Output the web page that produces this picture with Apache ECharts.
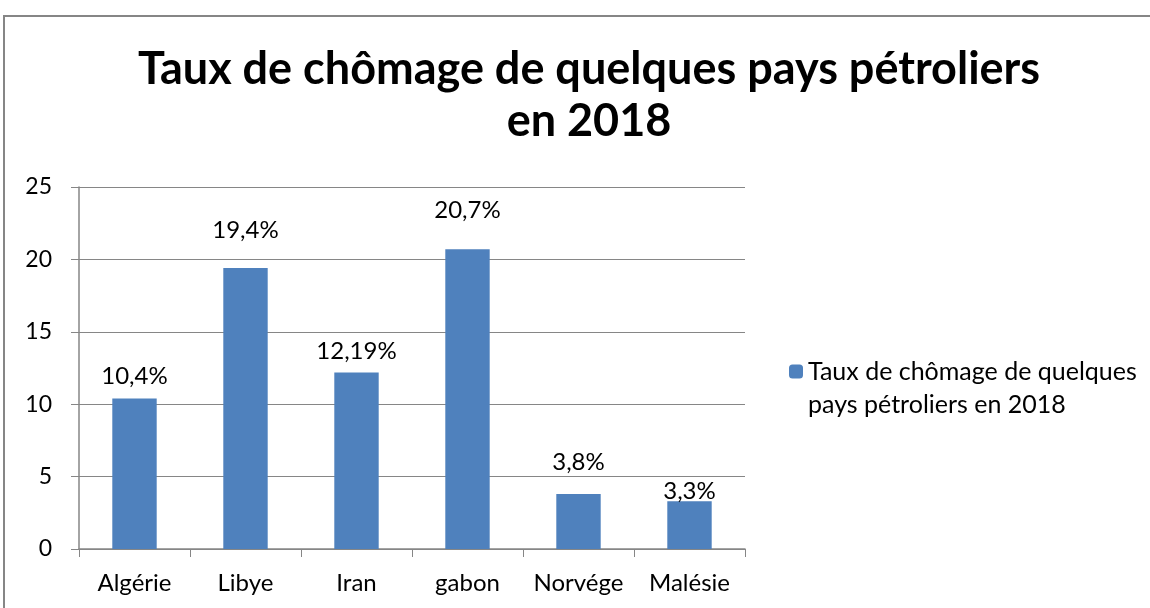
<!DOCTYPE html>
<html>
<head>
<meta charset="utf-8">
<script src="https://cdn.jsdelivr.net/npm/echarts@6/dist/echarts.min.js"></script>
<style>
  html, body { margin: 0; padding: 0; background: #fff; }
  #chart { width: 1150px; height: 608px; }
</style>
</head>
<body>
<div id="chart"></div>
<script>
// données
var pays = ['Algérie', 'Libye', 'Iran', 'gabon', 'Norvége', 'Malésie'];
var taux = [10.4, 19.4, 12.19, 20.7, 3.8, 3.3];
var etiquettes = ['10,4%', '19,4%', '12,19%', '20,7%', '3,8%', '3,3%'];
var nomSerie = 'Taux de chômage de quelques pays pétroliers en 2018';
// écart étiquette / haut de barre (placement manuel de l'original)
var ecarts = [10, 26, 9, 27, 20, -2];

var myChart = echarts.init(document.getElementById('chart'));

var donnees = taux.map(function (v, i) {
    return { value: v, label: { distance: ecarts[i] } };
});

var option = {
    backgroundColor: '#fff',
    textStyle: { fontFamily: 'Lato' },
    title: {
        text: 'Taux de chômage de quelques pays pétroliers\nen 2018',
        left: 584,
        textAlign: 'center',
        top: 38,
        textStyle: {
            fontFamily: 'Lato',
            fontWeight: 'bold',
            fontSize: 45,
            lineHeight: 52,
            color: '#000'
        }
    },
    // cadre du graphique
    graphic: [{
        type: 'rect',
        shape: { x: 4, y: 16, width: 1160, height: 620 },
        style: { fill: 'none', stroke: '#868686', lineWidth: 2 },
        silent: true
    }],
    legend: {
        left: 784,
        top: 317,
        orient: 'vertical',
        itemWidth: 14,
        itemHeight: 14,
        data: [nomSerie],
        // ligne vide en tête pour aligner le carré sur la 1re ligne
        formatter: function () {
            return ' \nTaux de chômage de quelques\npays pétroliers en 2018';
        },
        textStyle: { fontFamily: 'Lato', fontSize: 25, lineHeight: 33, color: '#000' }
    },
    grid: { left: 79, right: 405, top: 187, bottom: 59 },
    xAxis: {
        type: 'category',
        data: pays,
        axisLine: { lineStyle: { color: '#868686', width: 1.5 } },
        axisTick: { show: true, length: 8, lineStyle: { color: '#868686' } },
        axisLabel: { color: '#000', fontSize: 24, fontFamily: 'Lato', margin: 22, interval: 0 }
    },
    yAxis: {
        type: 'value',
        min: 0,
        max: 25,
        interval: 5,
        axisLine: { show: true, lineStyle: { color: '#868686', width: 1.5 } },
        axisTick: { show: true, length: 8, lineStyle: { color: '#868686' } },
        axisLabel: { color: '#000', fontSize: 23, fontFamily: 'Lato', margin: 27 },
        splitLine: { lineStyle: { color: '#868686', width: 1 } }
    },
    series: [{
        name: nomSerie,
        type: 'bar',
        data: donnees,
        barWidth: '40%',
        itemStyle: { color: '#4F81BD' },
        label: {
            show: true,
            position: 'top',
            color: '#000',
            fontSize: 24,
            fontFamily: 'Lato',
            formatter: function (p) { return etiquettes[p.dataIndex]; }
        }
    }]
};

myChart.setOption(option);
</script>
</body>
</html>
